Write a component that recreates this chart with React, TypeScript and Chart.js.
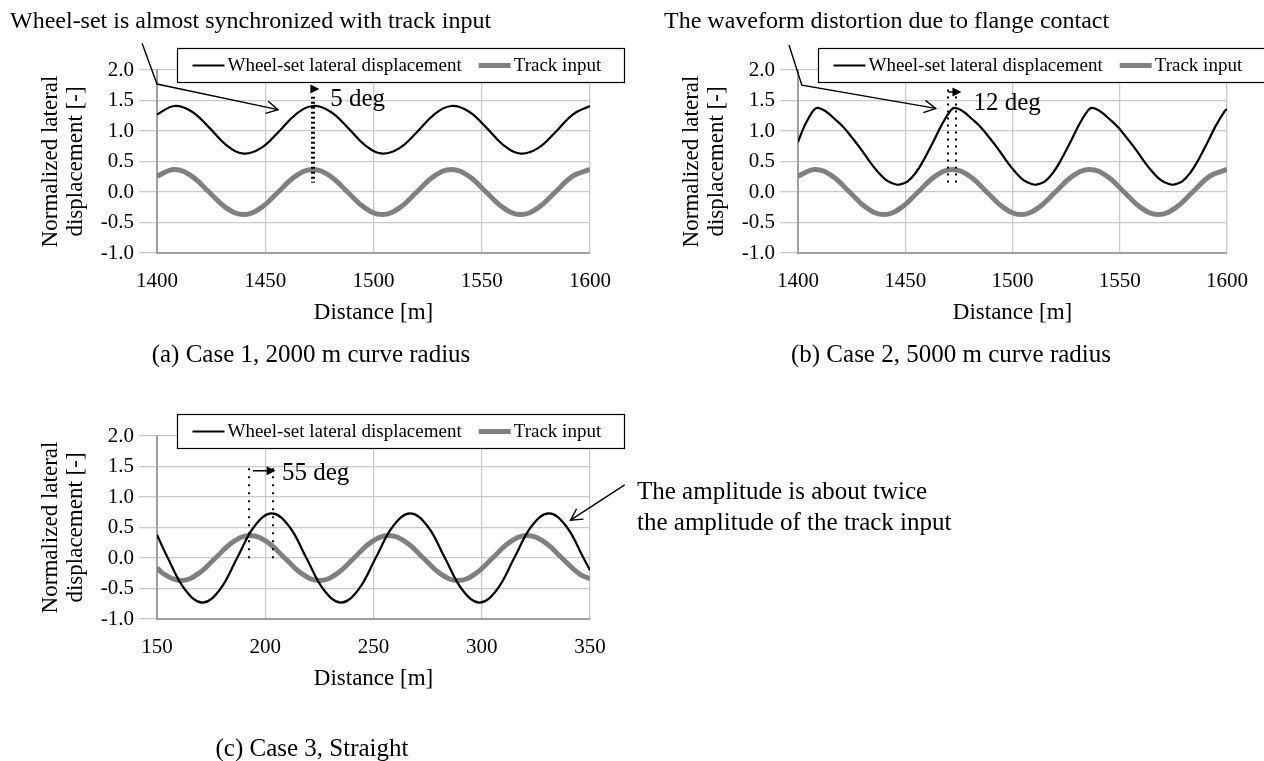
import React, { useEffect, useRef } from "react";
import { Chart, registerables } from "chart.js";

Chart.register(...registerables);

const SERIF = "'Liberation Serif', 'Times New Roman', Times, serif";
Chart.defaults.font.family = SERIF;

// ---------------- data ----------------
// Curve cases (a) and (b): track input sampled along distance [m]
const CURVE_DISTANCE = [1400, 1408, 1416, 1424, 1432, 1440, 1448, 1456, 1464, 1472, 1480, 1488, 1496, 1504, 1512, 1520, 1528, 1536, 1544, 1552, 1560, 1568, 1576, 1584, 1592, 1600];
const CURVE_TRACK_INPUT = [0.26, 0.37, 0.26, 0.0, -0.26, -0.37, -0.26, 0.0, 0.26, 0.37, 0.26, 0.0, -0.26, -0.37, -0.26, 0.0, 0.26, 0.37, 0.26, 0.0, -0.26, -0.37, -0.26, 0.0, 0.26, 0.37];
// Case 1 (2000 m radius) wheel-set lateral displacement on CURVE_DISTANCE
const CASE1_WHEELSET = [1.27, 1.41, 1.32, 1.06, 0.77, 0.63, 0.72, 0.98, 1.27, 1.41, 1.32, 1.06, 0.77, 0.63, 0.72, 0.98, 1.27, 1.41, 1.32, 1.06, 0.77, 0.63, 0.72, 0.98, 1.27, 1.41];
// Case 2 (5000 m radius) wheel-set lateral displacement (distorted waveform)
const CASE2_DISTANCE = [1400, 1403, 1407, 1409, 1413, 1417, 1421, 1425, 1429, 1433, 1437, 1441, 1445, 1447, 1451, 1455, 1459, 1463, 1467, 1471, 1473, 1477, 1481, 1485, 1489, 1493, 1497, 1501, 1505, 1509, 1511, 1515, 1519, 1523, 1527, 1531, 1535, 1537, 1541, 1545, 1549, 1553, 1557, 1561, 1565, 1569, 1573, 1575, 1579, 1583, 1587, 1591, 1595, 1599, 1600];
const CASE2_WHEELSET = [0.82, 1.08, 1.33, 1.38, 1.32, 1.2, 1.07, 0.9, 0.72, 0.52, 0.34, 0.2, 0.13, 0.12, 0.17, 0.32, 0.55, 0.82, 1.1, 1.33, 1.38, 1.32, 1.2, 1.07, 0.9, 0.72, 0.52, 0.34, 0.2, 0.13, 0.12, 0.17, 0.32, 0.55, 0.82, 1.1, 1.33, 1.38, 1.32, 1.2, 1.07, 0.9, 0.72, 0.52, 0.34, 0.2, 0.13, 0.12, 0.17, 0.32, 0.55, 0.82, 1.1, 1.33, 1.36];
// Case 3 (straight)
const STRAIGHT_TRACK_DISTANCE = [150, 153, 161, 169, 177, 185, 193, 201, 209, 217, 225, 233, 241, 249, 257, 265, 273, 281, 289, 297, 305, 313, 321, 329, 337, 345, 350];
const STRAIGHT_TRACK_INPUT = [-0.16, -0.26, -0.37, -0.26, 0.0, 0.26, 0.37, 0.26, 0.0, -0.26, -0.37, -0.26, 0.0, 0.26, 0.37, 0.26, 0.0, -0.26, -0.37, -0.26, 0.0, 0.26, 0.37, 0.26, 0.0, -0.26, -0.34];
const STRAIGHT_WHEEL_DISTANCE = [150, 155, 163, 171, 179, 187, 195, 203, 211, 219, 227, 235, 243, 251, 259, 267, 275, 283, 291, 299, 307, 315, 323, 331, 339, 347, 350];
const STRAIGHT_WHEELSET = [0.38, 0.0, -0.52, -0.73, -0.52, 0.0, 0.52, 0.73, 0.52, 0.0, -0.52, -0.73, -0.52, 0.0, 0.52, 0.73, 0.52, 0.0, -0.52, -0.73, -0.52, 0.0, 0.52, 0.73, 0.52, 0.0, -0.2];

const Y_TICKS = [-1.0, -0.5, 0.0, 0.5, 1.0, 1.5, 2.0];
const CURVE_X_TICKS = [1400, 1450, 1500, 1550, 1600];
const STRAIGHT_X_TICKS = [150, 200, 250, 300, 350];

const SERIES_LABELS = ["Wheel-set lateral displacement", "Track input"];
const Y_TITLE = ["Normalized lateral", "displacement [-]"];
const X_TITLE = "Distance [m]";
const TITLE_A = "Wheel-set is almost synchronized with track input";
const TITLE_B = "The waveform distortion due to flange contact";
const CAPTION_A = "(a) Case 1, 2000 m curve radius";
const CAPTION_B = "(b) Case 2, 5000 m curve radius";
const CAPTION_C = "(c) Case 3, Straight";
const NOTE_C = ["The amplitude is about twice", "the amplitude of the track input"];

// ---------------- styles ----------------
const GRID = "#c9c9c9";
const AXIS = "#a0a0a0";
const WHEEL_COLOR = "#000000";
const TRACK_COLOR = "#808080";
const TICK_SIZE = 21;
const AXIS_TITLE_SIZE = 23;
const AXIS_TITLE_LH = 25;
const LEGEND_SIZE = 19;
const NOTE_SIZE = 25;
const TITLE_SIZE = 24;
const X_AXIS_H = 60 + AXIS_TITLE_LH / 2;

type Box = { left: number; top: number; width: number; height: number };
type Area = { left: number; right: number; top: number; bottom: number };
interface PhaseMark {
  dottedX: number[]; top: number; bottom: number;
  arrowFrom: number; arrowTo: number; arrowY: number;
  text: string; textX: number; textY: number; dash: number[];
}
interface PanelSpec {
  canvas: Box; area: Area;
  wheelX: number[]; wheelY: number[]; trackX: number[]; trackY: number[];
  xMin: number; xMax: number; xTicks: number[];
  phase: PhaseMark;
  pointers: [number, number][][];
}

const PANEL_A: PanelSpec = {
  canvas: { left: 0, top: 0, width: 632, height: 380 },
  area: { left: 157, right: 590, top: 70, bottom: 253 },
  wheelX: CURVE_DISTANCE, wheelY: CASE1_WHEELSET,
  trackX: CURVE_DISTANCE, trackY: CURVE_TRACK_INPUT,
  xMin: 1400, xMax: 1600, xTicks: CURVE_X_TICKS,
  phase: { dottedX: [1471.6, 1472.6], top: 1.56, bottom: 0.15, arrowFrom: 1471, arrowTo: 1475, arrowY: 1.69, text: "5 deg", textX: 1480, textY: 1.52, dash: [2, 3] },
  pointers: [[[1393.1, 2.44], [1400, 1.77], [1455.9, 1.35]]],
};
const PANEL_B: PanelSpec = {
  canvas: { left: 640, top: 0, width: 624, height: 380 },
  area: { left: 158, right: 591, top: 70, bottom: 253 },
  wheelX: CASE2_DISTANCE, wheelY: CASE2_WHEELSET,
  trackX: CURVE_DISTANCE, trackY: CURVE_TRACK_INPUT,
  xMin: 1400, xMax: 1600, xTicks: CURVE_X_TICKS,
  phase: { dottedX: [1470, 1473.7], top: 1.68, bottom: 0.15, arrowFrom: 1470, arrowTo: 1476.2, arrowY: 1.64, text: "12 deg", textX: 1481.8, textY: 1.46, dash: [2, 5] },
  pointers: [[[1395.8, 2.41], [1401.8, 1.75], [1464.2, 1.37]]],
};
const PANEL_C: PanelSpec = {
  canvas: { left: 0, top: 380, width: 1000, height: 381 },
  area: { left: 157, right: 590, top: 56, bottom: 239 },
  wheelX: STRAIGHT_WHEEL_DISTANCE, wheelY: STRAIGHT_WHEELSET,
  trackX: STRAIGHT_TRACK_DISTANCE, trackY: STRAIGHT_TRACK_INPUT,
  xMin: 150, xMax: 350, xTicks: STRAIGHT_X_TICKS,
  phase: { dottedX: [192.5, 203.6], top: 1.47, bottom: -0.1, arrowFrom: 194.3, arrowTo: 204.8, arrowY: 1.43, text: "55 deg", textX: 207.7, textY: 1.38, dash: [2, 6] },
  pointers: [[[366, 1.2], [341, 0.62]]],
};

function decorPlugin(spec: PanelSpec) {
  return {
    id: "decor",
    afterDraw(chart: any) {
      const ctx: CanvasRenderingContext2D = chart.ctx;
      const X = chart.scales.x;
      const Y = chart.scales.y;
      const px = (v: number) => X.getPixelForValue(v);
      const py = (v: number) => Y.getPixelForValue(v);
      ctx.save();

      // legend box
      const lx = Math.round(chart.chartArea.left + 20) + 0.5;
      const ly = Math.round(py(2) - 22) + 0.5;
      const lw = 447;
      const lh = 34;
      ctx.fillStyle = "#fff";
      ctx.fillRect(lx, ly, lw, lh);
      ctx.strokeStyle = "#000";
      ctx.lineWidth = 1.2;
      ctx.strokeRect(lx, ly, lw, lh);
      ctx.font = `${LEGEND_SIZE}px ${SERIF}`;
      ctx.textBaseline = "middle";
      ctx.textAlign = "left";
      const cy = ly + lh / 2;
      let x = lx + 15;
      chart.data.datasets.forEach((ds: any) => {
        ctx.strokeStyle = ds.borderColor;
        ctx.lineWidth = ds.borderWidth;
        ctx.lineCap = "butt";
        ctx.beginPath();
        ctx.moveTo(x, cy);
        ctx.lineTo(x + 32, cy);
        ctx.stroke();
        x += 35;
        ctx.fillStyle = "#000";
        ctx.fillText(ds.label, x, cy + 1);
        x += ctx.measureText(ds.label).width + 17;
      });

      // phase dotted lines
      const ph = spec.phase;
      ctx.strokeStyle = "#000";
      ctx.lineWidth = 2;
      ctx.setLineDash(ph.dash);
      ph.dottedX.forEach((v) => {
        const xx = Math.round(px(v));
        ctx.beginPath();
        ctx.moveTo(xx, py(ph.top));
        ctx.lineTo(xx, py(ph.bottom));
        ctx.stroke();
      });
      ctx.setLineDash([]);

      // phase arrow
      const ax0 = px(ph.arrowFrom);
      const ax1 = px(ph.arrowTo);
      const ay = py(ph.arrowY);
      ctx.lineWidth = 1.5;
      ctx.beginPath();
      ctx.moveTo(ax0, ay);
      ctx.lineTo(ax1 - 6, ay);
      ctx.stroke();
      ctx.fillStyle = "#000";
      ctx.beginPath();
      ctx.moveTo(ax1, ay);
      ctx.lineTo(ax1 - 9, ay - 4.5);
      ctx.lineTo(ax1 - 9, ay + 4.5);
      ctx.closePath();
      ctx.fill();

      ctx.font = `${NOTE_SIZE}px ${SERIF}`;
      ctx.textBaseline = "middle";
      ctx.fillText(ph.text, px(ph.textX), py(ph.textY));

      // pointer arrows
      ctx.lineWidth = 1.4;
      spec.pointers.forEach((pts) => {
        const p = pts.map(([a, b]) => [px(a), py(b)]);
        ctx.beginPath();
        p.forEach(([a, b], i) => (i === 0 ? ctx.moveTo(a, b) : ctx.lineTo(a, b)));
        ctx.stroke();
        const [tx, ty] = p[p.length - 1];
        const [sx, sy] = p[p.length - 2];
        const ang = Math.atan2(ty - sy, tx - sx);
        const L = 13;
        const s = 0.5;
        ctx.beginPath();
        ctx.moveTo(tx - L * Math.cos(ang - s), ty - L * Math.sin(ang - s));
        ctx.lineTo(tx, ty);
        ctx.lineTo(tx - L * Math.cos(ang + s), ty - L * Math.sin(ang + s));
        ctx.stroke();
      });
      ctx.restore();
    },
  };
}

function buildConfig(spec: PanelSpec): any {
  const { canvas, area } = spec;
  const tickFont = { family: SERIF, size: TICK_SIZE };
  const titleFont = { family: SERIF, size: AXIS_TITLE_SIZE, lineHeight: AXIS_TITLE_LH / AXIS_TITLE_SIZE };
  return {
    type: "line",
    data: {
      datasets: [
        {
          label: SERIES_LABELS[0],
          data: spec.wheelX.map((x, i) => ({ x, y: spec.wheelY[i] })),
          borderColor: WHEEL_COLOR,
          borderWidth: 2.2,
          pointRadius: 0,
          tension: 0.4,
          fill: false,
          order: 0,
        },
        {
          label: SERIES_LABELS[1],
          data: spec.trackX.map((x, i) => ({ x, y: spec.trackY[i] })),
          borderColor: TRACK_COLOR,
          borderWidth: 5,
          pointRadius: 0,
          tension: 0.4,
          fill: false,
          order: 1,
        },
      ],
    },
    options: {
      responsive: false,
      maintainAspectRatio: false,
      animation: false,
      events: [],
      layout: {
        padding: {
          left: 0,
          top: area.top,
          right: canvas.width - area.right,
          bottom: canvas.height - area.bottom - X_AXIS_H,
        },
      },
      plugins: { legend: { display: false }, tooltip: { enabled: false }, title: { display: false } },
      scales: {
        x: {
          type: "linear",
          min: spec.xMin,
          max: spec.xMax,
          afterBuildTicks: (s: any) => {
            s.ticks = spec.xTicks.map((v) => ({ value: v }));
          },
          afterFit: (s: any) => {
            s.height = X_AXIS_H;
          },
          ticks: { autoSkip: false, maxRotation: 0, minRotation: 0, padding: 16, color: "#000", font: tickFont, callback: (v: any) => String(v) },
          grid: { color: GRID, lineWidth: 1.3, drawTicks: false },
          border: { color: AXIS, width: 2 },
          title: { display: true, text: X_TITLE, color: "#000", font: titleFont, padding: 0 },
        },
        y: {
          type: "linear",
          min: -1,
          max: 2,
          afterBuildTicks: (s: any) => {
            s.ticks = Y_TICKS.map((v) => ({ value: v }));
          },
          afterFit: (s: any) => {
            s.width = area.left;
          },
          ticks: { padding: 5, color: "#000", font: tickFont, callback: (v: any) => Number(v).toFixed(1) },
          grid: { color: GRID, lineWidth: 1.3, drawTicks: true, tickLength: 18 },
          border: { color: AXIS, width: 2 },
          title: {
            display: true,
            text: Y_TITLE,
            color: "#000",
            font: titleFont,
            padding: { top: area.left - 106 - AXIS_TITLE_LH / 2, bottom: 0 },
          },
        },
      },
    },
    plugins: [decorPlugin(spec)],
  };
}

function ChartPanel({ spec }: { spec: PanelSpec }) {
  const ref = useRef<HTMLCanvasElement>(null);
  useEffect(() => {
    if (!ref.current) return;
    const chart = new Chart(ref.current, buildConfig(spec));
    let alive = true;
    if ((document as any).fonts && (document as any).fonts.ready) {
      (document as any).fonts.ready.then(() => {
        if (alive) chart.update();
      });
    }
    return () => {
      alive = false;
      chart.destroy();
    };
  }, [spec]);
  const c = spec.canvas;
  return (
    <canvas
      ref={ref}
      width={c.width}
      height={c.height}
      style={{ position: "absolute", left: c.left, top: c.top, width: c.width, height: c.height }}
    />
  );
}

function TextLabel({ text, x, y, size, center }: { text: string; x: number; y: number; size: number; center?: boolean }) {
  const style: React.CSSProperties = {
    position: "absolute",
    left: x,
    top: y - size / 2,
    fontSize: size,
    lineHeight: `${size}px`,
    whiteSpace: "nowrap",
    fontFamily: SERIF,
    color: "#000",
    transform: center ? "translateX(-50%)" : undefined,
  };
  return <div style={style}>{text}</div>;
}

export default function App() {
  return (
    <div
      style={{
        position: "absolute",
        left: 0,
        top: 0,
        width: 1264,
        height: 761,
        overflow: "hidden",
        background: "#fff",
      }}
    >
      <ChartPanel spec={PANEL_A} />
      <ChartPanel spec={PANEL_B} />
      <ChartPanel spec={PANEL_C} />
      <TextLabel text={TITLE_A} x={10} y={20} size={TITLE_SIZE} />
      <TextLabel text={TITLE_B} x={664} y={20} size={TITLE_SIZE} />
      <TextLabel text={CAPTION_A} x={311} y={353} size={NOTE_SIZE} center />
      <TextLabel text={CAPTION_B} x={951} y={353} size={NOTE_SIZE} center />
      <TextLabel text={CAPTION_C} x={312} y={747} size={NOTE_SIZE} center />
      <TextLabel text={NOTE_C[0]} x={637} y={490} size={NOTE_SIZE} />
      <TextLabel text={NOTE_C[1]} x={637} y={521} size={NOTE_SIZE} />
    </div>
  );
}
